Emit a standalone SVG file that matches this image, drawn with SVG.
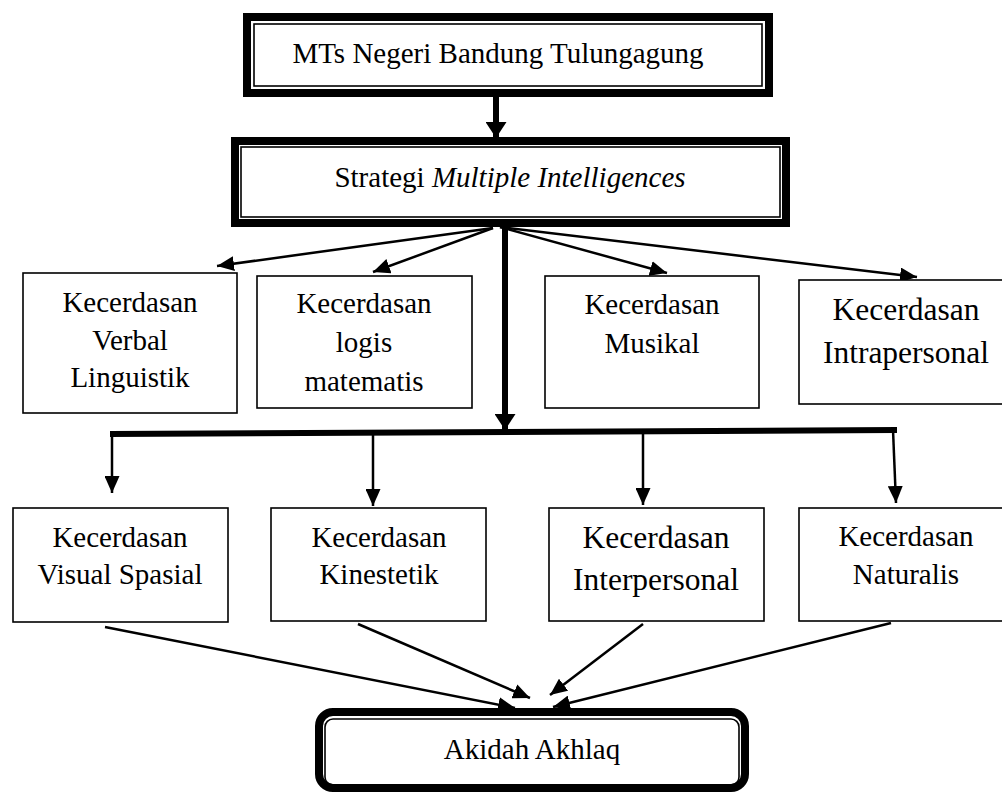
<svg xmlns="http://www.w3.org/2000/svg" width="1002" height="792" viewBox="0 0 1002 792" font-family="'Liberation Serif', 'Times New Roman', 'DejaVu Serif', serif">
<style>
text{font-family:"Liberation Serif","Times New Roman","DejaVu Serif",serif;font-size:29px;fill:#000;text-anchor:middle}
.big{font-size:31.5px}
.box{fill:#fff;stroke:#000;stroke-width:1.6}
.thick{fill:#fff;stroke:#000;stroke-width:8}
.thin{fill:none;stroke:#000;stroke-width:1.6}
.c{stroke:#000;stroke-width:2.5;fill:none}
.ct{stroke:#000;stroke-width:6;fill:none}
</style>
<defs>
<marker id="ah" viewBox="0 0 17 15" refX="17" refY="7.5" markerWidth="17" markerHeight="15" markerUnits="userSpaceOnUse" orient="auto"><path d="M0,0 L17,7.5 L0,15 z" fill="#000"/></marker>
<marker id="ahb" viewBox="0 0 16 21" refX="16" refY="10.5" markerWidth="16" markerHeight="21" markerUnits="userSpaceOnUse" orient="auto"><path d="M0,0 L16,10.5 L0,21 z" fill="#000"/></marker>
</defs>
<g id="connectors">
<line class="ct" x1="496" y1="97" x2="496" y2="138" marker-end="url(#ahb)"/>
<line class="c" x1="493" y1="228" x2="217" y2="266" marker-end="url(#ah)"/>
<line class="c" x1="493" y1="228" x2="373" y2="272" marker-end="url(#ah)"/>
<line class="c" x1="500" y1="227" x2="667" y2="273" marker-end="url(#ah)"/>
<line class="c" x1="500" y1="227" x2="917" y2="277" marker-end="url(#ah)"/>
<line class="ct" x1="505" y1="227" x2="505" y2="430" marker-end="url(#ahb)"/>
<line class="ct" x1="110" y1="434" x2="897" y2="430"/>
<line class="c" x1="112" y1="434" x2="112" y2="493" marker-end="url(#ah)"/>
<line class="c" x1="373" y1="433" x2="373" y2="506" marker-end="url(#ah)"/>
<line class="c" x1="643" y1="432" x2="643" y2="505" marker-end="url(#ah)"/>
<line class="c" x1="893" y1="430" x2="896" y2="503" marker-end="url(#ah)"/>
<line class="c" x1="105" y1="627" x2="515" y2="708" marker-end="url(#ah)"/>
<line class="c" x1="358" y1="624" x2="530" y2="698" marker-end="url(#ah)"/>
<line class="c" x1="643" y1="624" x2="550" y2="695" marker-end="url(#ah)"/>
<line class="c" x1="891" y1="623" x2="553" y2="707" marker-end="url(#ah)"/>
</g>
<g id="mts">
<rect class="thick" x="247" y="17" width="522" height="76"/>
<rect class="thin" x="254" y="24" width="508" height="62"/>
<text x="498" y="63">MTs Negeri Bandung Tulungagung</text>
</g>
<g id="strategi">
<rect class="thick" x="235" y="141" width="551" height="82"/>
<rect class="thin" x="241" y="147" width="539" height="70"/>
<text x="510" y="187">Strategi <tspan font-style="italic">Multiple Intelligences</tspan></text>
</g>
<g id="verbal">
<rect class="box" x="23" y="273" width="214" height="140"/>
<text x="130" y="312">Kecerdasan</text>
<text x="130" y="350">Verbal</text>
<text x="130" y="387">Linguistik</text>
</g>
<g id="logis">
<rect class="box" x="257" y="276" width="215" height="132"/>
<text x="364" y="313">Kecerdasan</text>
<text x="364" y="352">logis</text>
<text x="364" y="391">matematis</text>
</g>
<g id="musikal">
<rect class="box" x="545" y="276" width="214" height="132"/>
<text x="652" y="314">Kecerdasan</text>
<text x="652" y="353">Musikal</text>
</g>
<g id="intrapersonal">
<rect class="box" x="799" y="280" width="214" height="124"/>
<text class="big" x="906" y="320">Kecerdasan</text>
<text class="big" x="906" y="363">Intrapersonal</text>
</g>
<g id="visual">
<rect class="box" x="13" y="508" width="215" height="114"/>
<text x="120" y="547">Kecerdasan</text>
<text x="120" y="584">Visual Spasial</text>
</g>
<g id="kinestetik">
<rect class="box" x="271" y="508" width="215" height="113"/>
<text x="379" y="547">Kecerdasan</text>
<text x="379" y="584">Kinestetik</text>
</g>
<g id="interpersonal">
<rect class="box" x="549" y="508" width="215" height="113"/>
<text class="big" x="656" y="548">Kecerdasan</text>
<text class="big" x="656" y="590">Interpersonal</text>
</g>
<g id="naturalis">
<rect class="box" x="799" y="508" width="214" height="113"/>
<text x="906" y="546">Kecerdasan</text>
<text x="906" y="584">Naturalis</text>
</g>
<g id="akidah">
<rect class="thick" x="319" y="712" width="426" height="76" rx="14"/>
<rect class="thin" x="325" y="719" width="414" height="66" rx="8"/>
<text x="532" y="759">Akidah Akhlaq</text>
</g>
</svg>
